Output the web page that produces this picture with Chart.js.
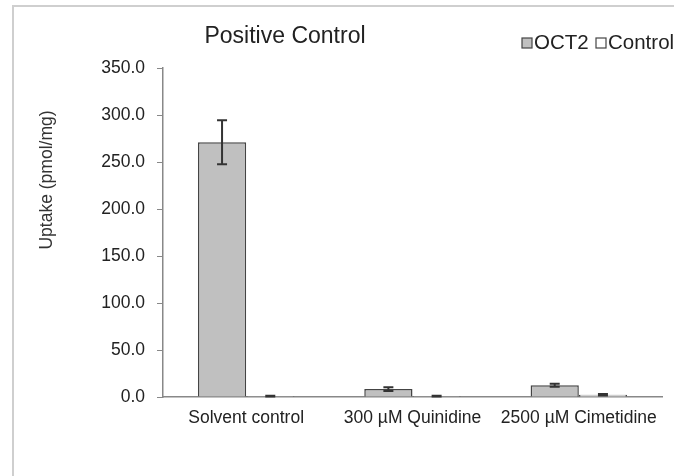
<!DOCTYPE html>
<html>
<head>
<meta charset="utf-8">
<script src="https://cdn.jsdelivr.net/npm/chart.js@4"></script>
<style>
  body { margin: 0; background: #fff; }
  #wrap { position: relative; width: 674px; height: 476px; }
</style>
</head>
<body>
<div id="wrap"><canvas id="chart"></canvas></div>
<script>
// data
const categories = ['Solvent control', '300 µM Quinidine', '2500 µM Cimetidine'];
const seriesNames = ['OCT2', 'Control'];
const oct2Values = [271, 8.5, 12.5];
const oct2Errors = [23.5, 2, 1.5];
const controlValues = [1, 1, 2.5];
const controlErrors = [0.4, 0.4, 0.8];
const yMin = 0, yMax = 350, yStep = 50;

const FONT = 'Liberation Sans, Arial, sans-serif';
const barColors = ['#c0c0c0', '#ffffff'];
const errors = [oct2Errors, controlErrors];

// frame, title, y title, legend
const decorations = {
    id: 'decorations',
    beforeDraw(chart) {
        const ctx = chart.ctx;
        ctx.save();
        ctx.strokeStyle = '#cfcfcf';
        ctx.lineWidth = 2;
        ctx.beginPath();
        ctx.moveTo(13, 476);
        ctx.lineTo(13, 6);
        ctx.lineTo(674, 6);
        ctx.stroke();
        ctx.restore();
    },
    afterDraw(chart) {
        const ctx = chart.ctx;
        ctx.save();
        ctx.fillStyle = '#222';
        ctx.font = '23px ' + FONT;
        ctx.textAlign = 'center';
        ctx.textBaseline = 'middle';
        ctx.fillText('Positive Control', 285, 37);

        // y axis title
        ctx.save();
        ctx.translate(47, 180);
        ctx.rotate(-Math.PI / 2);
        ctx.font = '17.5px ' + FONT;
        ctx.fillStyle = '#333';
        ctx.fillText('Uptake (pmol/mg)', 0, 0);
        ctx.restore();

        // legend
        ctx.font = '20.5px ' + FONT;
        ctx.textAlign = 'left';
        let x = 522;
        seriesNames.forEach((name, i) => {
            ctx.fillStyle = barColors[i];
            ctx.fillRect(x, 38, 10, 10);
            ctx.strokeStyle = '#444';
            ctx.lineWidth = 1.2;
            ctx.strokeRect(x, 38, 10, 10);
            ctx.fillStyle = '#222';
            ctx.fillText(name, x + 12, 43);
            x += 74;
        });
        ctx.restore();
    }
};

// error bars
const errorBars = {
    id: 'errorBars',
    afterDatasetsDraw(chart) {
        const ctx = chart.ctx;
        const yScale = chart.scales.y;
        ctx.save();
        ctx.strokeStyle = '#333';
        ctx.lineWidth = 2;
        chart.data.datasets.forEach((ds, di) => {
            chart.getDatasetMeta(di).data.forEach((bar, i) => {
                const v = ds.data[i], e = errors[di][i];
                const top = yScale.getPixelForValue(v + e);
                const bot = yScale.getPixelForValue(Math.max(v - e, 0));
                ctx.beginPath();
                ctx.moveTo(bar.x, top); ctx.lineTo(bar.x, bot);
                ctx.moveTo(bar.x - 5, top); ctx.lineTo(bar.x + 5, top);
                ctx.moveTo(bar.x - 5, bot); ctx.lineTo(bar.x + 5, bot);
                ctx.stroke();
            });
        });
        ctx.restore();
    }
};

new Chart(document.getElementById('chart'), {
    type: 'bar',
    data: {
        labels: categories,
        datasets: [
            {
                label: seriesNames[0],
                data: oct2Values,
                backgroundColor: barColors[0],
                borderColor: '#444',
                borderWidth: 1.5,
                borderSkipped: 'bottom'
            },
            {
                label: seriesNames[1],
                data: controlValues,
                backgroundColor: barColors[1],
                borderColor: '#444',
                borderWidth: 1.5,
                borderSkipped: 'bottom'
            }
        ]
    },
    options: {
        responsive: true,
        maintainAspectRatio: false,
        animation: false,
        layout: { padding: { left: 0, right: 12, top: 68, bottom: 0 } },
        datasets: { bar: { categoryPercentage: 0.58, barPercentage: 1 } },
        plugins: {
            legend: { display: false },
            tooltip: { enabled: false }
        },
        scales: {
            x: {
                grid: { display: false, drawTicks: false },
                border: { display: true, color: '#888', width: 1.5 },
                ticks: {
                    color: '#222',
                    padding: 11,
                    maxRotation: 0,
                    font: { family: FONT, size: 17.5 }
                },
                afterFit(s) { s.height = 79; }
            },
            y: {
                min: yMin,
                max: yMax,
                grid: { drawOnChartArea: false, drawTicks: true, tickLength: 6, color: '#888' },
                border: { display: true, color: '#888', width: 1.5 },
                ticks: {
                    stepSize: yStep,
                    color: '#222',
                    padding: 12,
                    font: { family: FONT, size: 17.5 },
                    callback: v => v.toFixed(1)
                },
                afterFit(s) { s.width = 163; }
            }
        }
    },
    plugins: [decorations, errorBars]
});
</script>
</body>
</html>
